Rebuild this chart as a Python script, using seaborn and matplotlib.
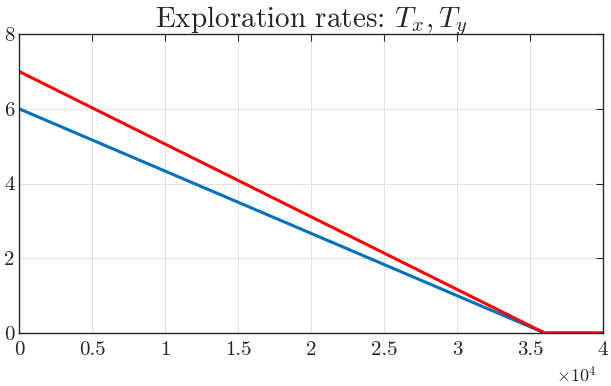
import pandas as pd
import matplotlib
matplotlib.use('Agg')
import matplotlib.pyplot as plt
import seaborn as sns

# data
iters = [0, 36000, 40000]
rate_x = [6, 0, 0]
rate_y = [7, 0, 0]
xtick_vals = [0, 5000, 10000, 15000, 20000, 25000, 30000, 35000, 40000]
xtick_labels = ['0', '0.5', '1', '1.5', '2', '2.5', '3', '3.5', '4']
ytick_vals = [0, 2, 4, 6, 8]

sns.set_style('white')
plt.rcParams['font.family'] = ['serif']
plt.rcParams['font.serif'] = ['cmr10']
plt.rcParams['mathtext.fontset'] = 'cm'
plt.rcParams['axes.unicode_minus'] = False

df = pd.DataFrame({'iter': iters, 'Tx': rate_x, 'Ty': rate_y})

fig = plt.figure(figsize=(6.11, 3.86), dpi=100)
ax = fig.add_axes([19/611, 1-333/386, 584/611, 299/386])

sns.lineplot(data=df, x='iter', y='Tx', color='#0072BD', lw=2.2, ax=ax)
sns.lineplot(data=df, x='iter', y='Ty', color='#FF0000', lw=2.2, ax=ax)

ax.set_xlim(0, 40000)
ax.set_ylim(0, 8)
ax.set_xticks(xtick_vals)
ax.set_xticklabels(xtick_labels)
ax.set_yticks(ytick_vals)
ax.set_xlabel('')
ax.set_ylabel('')
ax.grid(True, color='#e1e1e1', lw=0.7)
ax.set_axisbelow(True)
for s in ax.spines.values():
    s.set_color('#262626')
    s.set_linewidth(1.0)
ax.tick_params(direction='in', top=True, right=True, length=5, width=0.8,
               colors='#262626', labelsize=15)
ax.tick_params(axis='x', pad=6)
ax.tick_params(axis='y', pad=3)
ax.set_title(r'Exploration rates: $T_x, T_y$', fontsize=21, pad=5)
fig.text(597/611, 0.5/386, r'$\times10^4$', ha='right', va='bottom',
         fontsize=13, color='#262626')

plt.savefig('out.png', dpi=100)
